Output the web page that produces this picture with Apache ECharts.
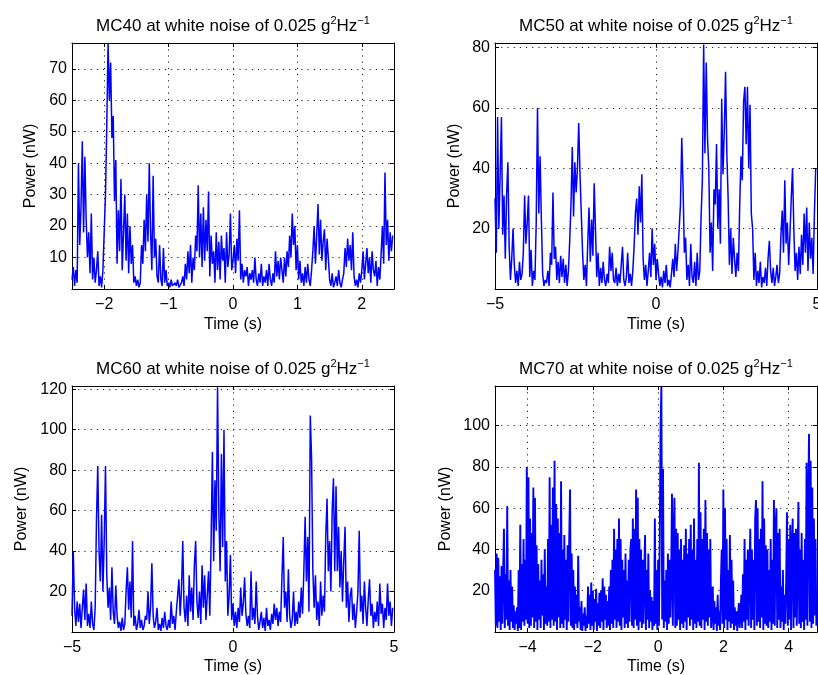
<!DOCTYPE html>
<html><head><meta charset="utf-8">
<script src="https://cdn.jsdelivr.net/npm/echarts@6/dist/echarts.min.js"></script>
<style>html,body{margin:0;padding:0;background:#fff}#c{width:818px;height:675px}</style>
</head><body><div id="c"></div>
<script>
// ---------- DATA ----------
const panelNames = ['MC40', 'MC50', 'MC60', 'MC70'];
const titleSuffix = ' at white noise of 0.025 g';
const xAxisTitle = 'Time (s)';
const yAxisTitle = 'Power (nW)';

// sample start (s) and sample step (s) of each record
const mc40Start = -2.5, mc40Step = 0.02;
const mc50Start = -5.0, mc50Step = 0.04;
const mc60Start = -5.0, mc60Step = 0.04;
const mc70Start = -5.0, mc70Step = 0.025;

// power values (nW)
const mc40Power = [
 3, 7, 1, 6, 2,
 40, 14, 26, 47, 18, 42, 22, 10,
 18, 5, 24,
 3, 10, 2, 6, 12, 1, 4, 0.5, 6,
 18, 30, 52, 78, 60, 72, 48, 55, 28,
 41, 8, 25,
 12, 35, 6, 18, 30, 9, 24, 5, 20, 8, 14,
 2, 4, 1, 3, 0.5, 2,
 14, 8, 22, 12, 30, 15, 40, 18,
 6, 36, 10, 16, 4,
 2, 14, 3, 1, 13, 2, 6,
 1, 2, 0.5, 3, 1, 0.5, 2, 1, 3, 0.5, 1, 2, 4, 1,
 8, 3, 12, 5, 14, 2, 10, 6, 17,
 12, 33, 10, 24, 7, 26, 9, 22, 12, 31,
 4, 17, 8, 12, 2, 18, 6, 15, 3, 17, 9, 13, 2, 18, 7, 11, 24, 6, 9,
 14, 5, 16, 9,
 25,
 3, 8, 2, 6, 4, 7, 1, 5, 3,
 6, 2, 10,
 3, 1, 5, 2, 8, 1, 4, 2, 6, 1, 8, 3, 1, 5, 2,
 12,
 4, 9, 3, 10, 6,
 2, 10, 4, 12, 7, 17,
 10, 24, 14, 20,
 6, 14, 3, 9, 2,
 5, 1, 7, 2, 8, 3, 1, 6,
 12, 20, 8, 17, 27, 11, 22, 9, 15, 19, 6, 16, 10,
 3, 1, 5, 0.5, 2, 4, 1, 6, 2, 0.5, 3, 5,
 13, 7, 16, 9, 14, 6, 18,
 4, 1, 3, 0.5, 5, 2,
 6, 12, 3, 8, 13, 5, 10, 2, 12, 6, 4, 9, 1, 7, 3,
 11, 20, 8, 37, 14, 22, 9, 18, 12, 17
];

const mc50Power = [
 30, 12, 57, 20, 38, 57, 18, 31, 10, 31, 42, 14, 3, 10, 20, 8,
 2, 6, 1, 9, 3, 5,
 12, 31, 15, 22, 31,
 4, 13, 1, 6, 3,
 22, 60, 25, 44, 23,
 5, 1, 3, 2, 6, 1,
 12, 8, 32, 10, 14,
 3, 9, 2, 11, 4, 10, 2, 8, 1, 6,
 16, 28, 47, 24, 42, 32, 40, 55, 38, 25, 12,
 3, 8, 1,
 15, 27, 9, 23, 11, 35, 20,
 4, 12, 1, 7, 2, 9, 3, 1, 5, 2,
 14, 6, 12, 3,
 2, 7, 1, 5, 2, 8, 14, 3,
 1, 4, 12, 2, 5, 1, 6,
 14, 25, 30, 18, 34, 22, 38, 10,
 3, 8, 1, 6,
 12, 4, 20, 8, 15, 3, 10,
 5,
 1, 4, 0.5, 6, 2, 8, 1, 3, 0.5, 5,
 10, 4, 15, 6, 12,
 20, 28, 50, 34, 12,
 17, 3, 8, 1, 15, 4, 2, 9, 1, 12, 3, 6,
 24, 36, 81, 45, 75, 50, 40, 12, 22, 6,
 33, 28, 48, 20, 33, 15, 63, 38, 52, 72, 45, 30,
 8, 20, 5, 17, 10, 4, 12, 6,
 28, 44, 36, 62, 67, 48, 67, 40, 61, 25, 20,
 3, 12, 1, 6, 2, 9, 0.5, 4, 2, 7, 1,
 10, 16, 6,
 2, 7, 1, 4, 8, 2, 5,
 18, 26, 12, 36, 15, 22, 8, 18, 30, 40, 20,
 6, 12, 3, 14, 5,
 18, 8, 25, 12, 27, 6, 22, 10, 17, 5, 25, 40
];

const mc60Power = [
 8, 40, 12, 3, 15, 5, 14, 2, 12, 21, 6, 24, 3, 9, 2, 15, 4, 1, 12,
 55, 82, 40, 25, 58, 20, 45, 82, 28, 12, 22, 6, 32, 10, 4, 23, 8,
 2, 5, 0.5, 7, 1, 4,
 20, 32, 11, 25, 7, 45,
 3, 8, 1, 4, 11, 2, 6, 1, 3, 8,
 6, 20, 4, 12, 34,
 8, 2, 5, 12, 1, 4, 0.5, 7, 2, 10, 3, 1, 6, 2, 15, 4, 8, 1,
 10, 18, 26, 8, 21, 45, 12, 5, 18, 3, 28, 10, 22, 6, 33, 45, 15, 7, 20, 4, 33, 12, 28, 6, 18, 30, 8,
 45, 89, 35, 75, 50, 121, 60, 30, 88, 42, 100, 25, 45, 8, 18,
 38, 6, 14, 3, 10, 2, 12, 5, 22, 8, 14, 27, 9, 3, 8, 2, 30, 6, 12, 4, 25, 8,
 1, 5, 10, 2, 7, 0.5, 12, 3, 6, 1, 9,
 4, 14, 6, 12, 3, 10, 5, 27, 47, 12, 20, 5, 31, 8, 2, 6, 20, 3, 10, 4,
 15, 7, 22, 9, 30, 57, 25, 47, 10, 107, 86, 30, 12, 28, 6, 15, 3, 25, 8, 18, 10, 47, 66, 30,
 45, 20, 60, 76, 30, 72, 30, 52, 22, 40, 15, 35, 52, 12, 25, 5, 18, 22, 6, 14, 2, 10, 20, 50, 10,
 18, 4, 25, 12, 3, 16, 26, 8, 14, 2, 10, 5, 15, 3, 24, 9, 14, 2, 12, 6, 24, 8, 15, 3, 12
];

const mc70Power = [
 30, 3, 38, 2, 36, 5,
 27, 1, 32, 4, 30,
 50, 2, 28, 6, 61, 3,
 25, 1, 30, 5, 22, 2,
 13, 1, 10, 4, 12, 0.5,
 30, 2, 52, 1, 33, 5,
 45, 3, 35, 6,
 80, 4, 75, 2,
 55, 3, 48, 7, 70, 2, 65, 5,
 42, 1, 33, 6, 25, 2, 35, 8, 28, 1, 40, 4, 22, 3,
 45, 5, 75, 2, 52, 6, 70,
 3, 83, 5, 62, 1, 55, 7, 48, 2, 73, 4, 40,
 2, 47, 6, 35, 1, 42,
 5, 45, 69, 3, 38, 2,
 30, 1, 22, 4, 18, 2, 37, 5, 12,
 1, 15, 0.5, 9, 3, 12, 0.5, 8, 2, 22, 4, 18,
 1, 24, 3, 20,
 1, 16, 5, 21, 0.5, 14, 3, 19,
 2, 20, 5, 26, 1, 22, 6, 18, 2,
 15, 3, 22, 1, 30, 4, 35, 2,
 50, 6, 40, 2, 45, 5, 55, 3,
 45, 1, 35, 7, 30, 2, 38, 4,
 25, 2, 35, 5, 40, 45, 3, 55,
 2, 50, 6, 69, 3, 65, 1, 45, 5, 40,
 2, 35, 4, 28, 47, 1, 30, 6, 38, 2, 20, 5, 17, 1, 15, 3,
 55, 4, 30, 1,
 35, 3, 45, 100, 119, 6, 79,
 2, 25, 5, 30, 1, 38, 4, 35, 7, 28,
 67, 3, 45, 65, 2, 50,
 3, 48, 6, 40, 1, 45, 4, 35,
 2, 42, 5, 50, 1, 38, 7, 45, 3, 52, 6, 40, 1, 55, 4, 35, 2,
 45, 5, 82, 3,
 58, 2, 45, 6, 50, 1, 64, 5, 48, 3, 40, 7, 45, 2,
 8, 22, 1, 15, 4, 12, 0.5, 18, 3, 10, 1, 25,
 40, 4, 69, 2, 60, 6,
 45, 1, 30, 5, 47, 2, 35, 4, 25,
 1, 12, 3, 10, 0.5, 8, 14, 2, 9, 18,
 2, 28, 5, 45, 1, 35, 6, 40, 3, 30,
 50, 2, 40, 6, 35, 1, 55, 64, 3, 60, 5, 45, 2, 50, 7, 73, 1, 55, 4, 42, 3,
 40, 2, 30, 5, 45, 1, 35, 4,
 64, 3, 50, 60, 2, 48, 6, 50,
 2, 22, 5, 30, 1, 18, 4, 25,
 58, 3, 45, 6, 52, 1, 40, 55, 2, 48, 7, 50, 3, 35, 63, 4,
 40, 2, 48, 5, 35, 1, 45, 6,
 82, 3, 60, 96, 5, 83, 2, 70,
 4, 55, 8, 45, 3
];

// axis limits and tick steps
const xLimits = [[-2.5, 2.5], [-5, 5], [-5, 5], [-5, 4.87]];
const xTickSteps = [1, 5, 5, 2];
const yLimits = [[0, 78.2], [0, 81.5], [0, 121.6], [0, 119.2]];
const yTickSteps = [10, 20, 20, 20];

// ---------- CHART ----------
const FONT = '"Liberation Sans", Arial, Helvetica, sans-serif';
const FS = 16;
const records = [
  {values: mc40Power, t0: mc40Start, dt: mc40Step},
  {values: mc50Power, t0: mc50Start, dt: mc50Step},
  {values: mc60Power, t0: mc60Start, dt: mc60Step},
  {values: mc70Power, t0: mc70Start, dt: mc70Step}
];
const layout = [
  {left: 72, top: 43, width: 322, height: 246, yGap: 33, titleTop: 15, xGap: 28, lw: 1.5},
  {left: 495, top: 43, width: 322, height: 246, yGap: 32, titleTop: 15, xGap: 28, lw: 1.5},
  {left: 72, top: 386, width: 322, height: 246, yGap: 42, titleTop: 358, xGap: 27, lw: 1.5},
  {left: 495, top: 386, width: 322, height: 246, yGap: 41, titleTop: 358, xGap: 27, lw: 1.9}
];

function fmt(step, hideZero) {
  return function (v) {
    const q = v / step;
    if (Math.abs(q - Math.round(q)) > 1e-6) return '';
    if (hideZero && Math.abs(v) < 1e-9) return '';
    return String(Math.round(v)).replace('-', '\u2212');
  };
}

const grids = [], xAxes = [], yAxes = [], series = [], titles = [];
const dotted = {type: [1.2, 5], color: '#222', width: 1};
const frame = {show: true, onZero: false, lineStyle: {color: '#000', width: 1}};
const tick = {show: true, inside: true, length: 4, lineStyle: {color: '#000', width: 1}};

for (let k = 0; k < 4; k++) {
  const L = layout[k];
  grids.push({left: L.left, top: L.top, width: L.width, height: L.height, containLabel: false, outerBoundsMode: 'none'});
  const [xmin, xmax] = xLimits[k];
  const xs = xTickSteps[k];
  const xMinMultiple = Math.abs(xmin / xs - Math.round(xmin / xs)) < 1e-9;
  const xBase = {type: 'value', gridIndex: k, min: xmin, max: xmax};
  if (xMinMultiple) xBase.interval = xs; else xBase.splitNumber = 5;
  xAxes.push(Object.assign({}, xBase, {
    position: 'bottom', axisLine: frame, axisTick: tick,
    axisLabel: {formatter: fmt(xs, false), color: '#000', fontSize: FS, fontFamily: FONT, margin: 8, showMinLabel: true, showMaxLabel: true, hideOverlap: false},
    splitLine: {show: true, lineStyle: dotted},
    name: xAxisTitle, nameLocation: 'middle', nameGap: L.xGap,
    nameTextStyle: {color: '#000', fontSize: FS, fontFamily: FONT}
  }));
  xAxes.push(Object.assign({}, xBase, {
    position: 'top', axisLine: frame, axisTick: tick,
    axisLabel: {show: false}, splitLine: {show: false}
  }));
  const [ymin, ymax] = yLimits[k];
  const ys = yTickSteps[k];
  const yBase = {type: 'value', gridIndex: k, min: ymin, max: ymax, interval: ys};
  yAxes.push(Object.assign({}, yBase, {
    position: 'left', axisLine: frame, axisTick: tick,
    axisLabel: {formatter: fmt(ys, true), color: '#000', fontSize: FS, fontFamily: FONT, margin: 5, showMinLabel: true, showMaxLabel: true, hideOverlap: false},
    splitLine: {show: true, lineStyle: dotted},
    name: yAxisTitle, nameLocation: 'middle', nameGap: L.yGap,
    nameTextStyle: {color: '#000', fontSize: FS, fontFamily: FONT}
  }));
  yAxes.push(Object.assign({}, yBase, {
    position: 'right', axisLine: frame, axisTick: tick,
    axisLabel: {show: false}, splitLine: {show: false}
  }));
  const r = records[k];
  series.push({
    type: 'line', xAxisIndex: 2 * k, yAxisIndex: 2 * k,
    data: r.values.map((v, i) => [r.t0 + i * r.dt, v]),
    showSymbol: false, symbol: 'none', sampling: null, clip: true,
    lineStyle: {color: '#0000ff', width: L.lw}, z: 3
  });
  titles.push({
    text: panelNames[k] + titleSuffix + '{s|2}Hz{s|\u22121}',
    left: L.left + L.width / 2, top: L.titleTop, textAlign: 'center', padding: 0,
    textStyle: {fontSize: 17, fontWeight: 'normal', color: '#000', fontFamily: FONT, lineHeight: 22,
      rich: {s: {fontSize: 11, fontFamily: FONT, color: '#000', verticalAlign: 'top', lineHeight: 12}}}
  });
}

const chart = echarts.init(document.getElementById('c'), null, {renderer: 'canvas'});
chart.setOption({
  backgroundColor: '#fff',
  animation: false,
  title: titles,
  grid: grids,
  xAxis: xAxes,
  yAxis: yAxes,
  series: series
});
</script>
</body></html>
